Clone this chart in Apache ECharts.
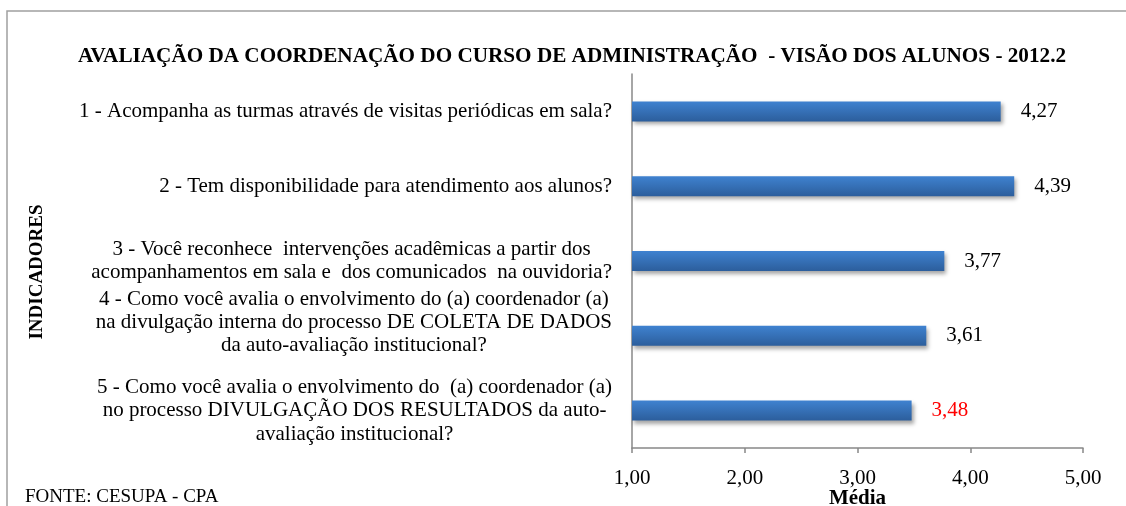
<!DOCTYPE html>
<html>
<head>
<meta charset="utf-8">
<script src="https://cdn.jsdelivr.net/npm/echarts@6/dist/echarts.min.js"></script>
<style>
  html, body { margin: 0; padding: 0; background: #fff; }
  #chart { width: 1126px; height: 506px; }
</style>
</head>
<body>
<div id="chart"></div>
<script>
// dados
const categorias = [
  "1 - Acompanha as turmas através de visitas periódicas em sala?",
  "2 - Tem disponibilidade para atendimento aos alunos?",
  "3 - Você reconhece  intervenções acadêmicas a partir dos\nacompanhamentos em sala e  dos comunicados  na ouvidoria?",
  "4 - Como você avalia o envolvimento do (a) coordenador (a)\nna divulgação interna do processo DE COLETA DE DADOS\nda auto-avaliação institucional?",
  "5 - Como você avalia o envolvimento do  (a) coordenador (a)\nno processo DIVULGAÇÃO DOS RESULTADOS da auto-\navaliação institucional?"
];
const medias = [4.27, 4.39, 3.77, 3.61, 3.48];
const coresRotulo = ["#000", "#000", "#000", "#000", "#ff0000"];
const ticksX = [1, 2, 3, 4, 5];

const serif = "'Liberation Serif', 'Times New Roman', serif";
const fmt = v => v.toFixed(2).replace(".", ",");

const chart = echarts.init(document.getElementById("chart"));

const option = {
  backgroundColor: "#ffffff",
  animation: false,
  title: {
    text: "AVALIAÇÃO DA COORDENAÇÃO DO CURSO DE ADMINISTRAÇÃO  - VISÃO DOS ALUNOS - 2012.2",
    left: 567,
    textAlign: "center",
    top: 41,
    textStyle: { fontFamily: serif, fontSize: 21.2, fontWeight: "bold", color: "#000" }
  },
  grid: { left: 632, right: 43, top: 74, bottom: 58, containLabel: false, outerBoundsMode: "none" },
  xAxis: {
    type: "value",
    min: ticksX[0],
    max: ticksX[ticksX.length - 1],
    interval: 1,
    name: "Média",
    nameLocation: "middle",
    nameGap: 40,
    nameMoveOverlap: false,
    nameTextStyle: { fontFamily: serif, fontSize: 21, fontWeight: "bold", color: "#000" },
    axisLine: { show: true, lineStyle: { color: "#888", width: 1.5 } },
    axisTick: { show: true, inside: false, length: 5, lineStyle: { color: "#888", width: 1.5 } },
    splitLine: { show: false },
    axisLabel: {
      margin: 20,
      formatter: v => fmt(v),
      fontFamily: serif, fontSize: 21, color: "#000"
    }
  },
  yAxis: {
    type: "category",
    inverse: true,
    data: categorias,
    axisLine: { show: true, lineStyle: { color: "#888", width: 1.5 } },
    axisTick: { show: false },
    axisLabel: {
      interval: 0,
      hideOverlap: false,
      margin: 20,
      fontFamily: serif, fontSize: 21, color: "#000",
      formatter: (val, i) => {
        const linhas = val.split("\n");
        return linhas.map((l, k) => {
          const estilo = (i === 3 && k === linhas.length - 1) ? "p" : "c";
          return "{" + estilo + "|" + l + "}";
        }).join("\n");
      },
      rich: {
        c: { align: "center", fontFamily: serif, fontSize: 21, color: "#000", lineHeight: 23.5 },
        p: { align: "center", verticalAlign: "top", fontFamily: serif, fontSize: 21, color: "#000", lineHeight: 49.5 }
      }
    }
  },
  series: [{
    type: "bar",
    barWidth: 20,
    data: medias.map((v, i) => ({
      value: v,
      label: { color: coresRotulo[i] }
    })),
    itemStyle: {
      color: new echarts.graphic.LinearGradient(0, 0, 0, 1, [
        { offset: 0, color: "#3f82d0" },
        { offset: 1, color: "#2c5e9c" }
      ]),
      shadowColor: "rgba(0,0,0,0.35)",
      shadowBlur: 4,
      shadowOffsetX: 2,
      shadowOffsetY: 3
    },
    label: {
      show: true,
      position: "right",
      distance: 20,
      formatter: p => fmt(p.value),
      fontFamily: serif, fontSize: 21
    }
  }],
  graphic: [
    {
      type: "rect",
      shape: { x: 7, y: 11, width: 1130, height: 520 },
      style: { fill: "none", stroke: "#a0a0a0", lineWidth: 1.5 },
      silent: true
    },
    {
      type: "text",
      x: 37, y: 272,
      rotation: Math.PI / 2,
      style: {
        text: "INDICADORES",
        fontFamily: serif, fontSize: 19, fontWeight: "bold", fill: "#000",
        textAlign: "center", textVerticalAlign: "middle"
      }
    },
    {
      type: "text",
      x: 25, y: 497,
      style: {
        text: "FONTE: CESUPA - CPA",
        fontFamily: serif, fontSize: 19, fill: "#000",
        textAlign: "left", textVerticalAlign: "middle"
      }
    }
  ]
};

chart.setOption(option);
window.onresize = function () { chart.resize(); };
</script>
</body>
</html>
